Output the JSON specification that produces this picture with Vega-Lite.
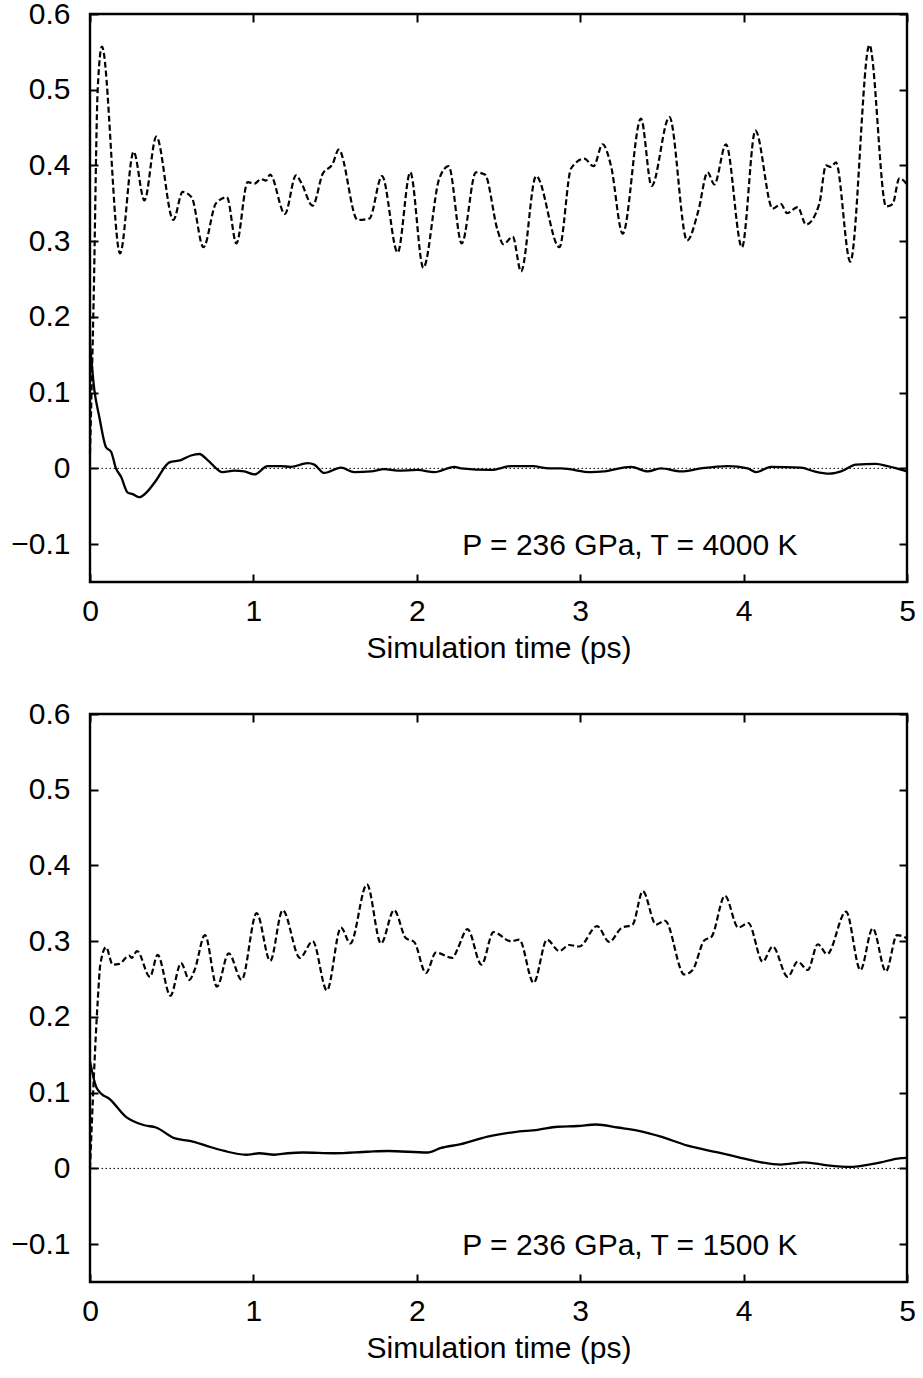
{
  "$schema": "https://vega.github.io/schema/vega-lite/v6.json",
  "background": "white",
  "padding": {"left": 9, "top": -3, "right": 5, "bottom": 0},
  "spacing": 32,
  "config": {
    "view": {"stroke": "black", "strokeWidth": 2.4},
    "font": "Liberation Sans",
    "axis": {
      "labelFont": "Liberation Sans", "labelFontSize": 30, "labelColor": "black",
      "titleFont": "Liberation Sans", "titleFontSize": 30, "titleFontWeight": "normal", "titleColor": "black",
      "domain": false, "grid": false, "tickColor": "black", "tickWidth": 2,
      "labelFlush": false, "labelOverlap": false
    }
  },
  "datasets": {
    "hot_solid": [
      {"t":0,"v":0.165},{"t":0.027,"v":0.103},{"t":0.057,"v":0.068},{"t":0.098,"v":0.028},{"t":0.129,"v":0.022},
      {"t":0.159,"v":0.0},{"t":0.19,"v":-0.011},{"t":0.231,"v":-0.032},{"t":0.261,"v":-0.034},{"t":0.302,"v":-0.038},
      {"t":0.349,"v":-0.031},{"t":0.404,"v":-0.016},{"t":0.486,"v":0.008},{"t":0.557,"v":0.011},{"t":0.618,"v":0.017},
      {"t":0.669,"v":0.019},{"t":0.72,"v":0.011},{"t":0.812,"v":-0.005},{"t":0.883,"v":-0.003},{"t":0.944,"v":-0.004},
      {"t":1.006,"v":-0.008},{"t":1.087,"v":0.003},{"t":1.169,"v":0.003},{"t":1.23,"v":0.002},{"t":1.332,"v":0.007},
      {"t":1.373,"v":0.005},{"t":1.434,"v":-0.006},{"t":1.536,"v":0.001},{"t":1.618,"v":-0.005},{"t":1.72,"v":-0.004},
      {"t":1.801,"v":-0.001},{"t":1.883,"v":-0.003},{"t":2.005,"v":-0.002},{"t":2.107,"v":-0.005},{"t":2.23,"v":0.002},
      {"t":2.27,"v":0.0},{"t":2.454,"v":-0.002},{"t":2.577,"v":0.003},{"t":2.709,"v":0.003},{"t":2.811,"v":0.0},
      {"t":2.883,"v":0.0},{"t":3.066,"v":-0.005},{"t":3.147,"v":-0.004},{"t":3.311,"v":0.002},{"t":3.413,"v":-0.004},
      {"t":3.494,"v":0.0},{"t":3.617,"v":-0.004},{"t":3.739,"v":0.0},{"t":3.903,"v":0.003},{"t":4.025,"v":0.0},
      {"t":4.076,"v":-0.005},{"t":4.168,"v":0.002},{"t":4.351,"v":0.001},{"t":4.433,"v":-0.004},{"t":4.525,"v":-0.007},
      {"t":4.596,"v":-0.004},{"t":4.688,"v":0.005},{"t":4.81,"v":0.006},{"t":4.881,"v":0.003},{"t":5.0,"v":-0.004}
    ],
    "hot_dashed": [
      {"t":0,"v":0.02},{"t":0.022,"v":0.22},{"t":0.047,"v":0.5},{"t":0.073,"v":0.557},{"t":0.184,"v":0.284},
      {"t":0.267,"v":0.418},{"t":0.333,"v":0.354},{"t":0.406,"v":0.438},{"t":0.51,"v":0.328},{"t":0.567,"v":0.365},
      {"t":0.622,"v":0.358},{"t":0.694,"v":0.292},{"t":0.771,"v":0.35},{"t":0.838,"v":0.358},{"t":0.896,"v":0.297},
      {"t":0.965,"v":0.378},{"t":1.006,"v":0.376},{"t":1.047,"v":0.382},{"t":1.077,"v":0.38},{"t":1.102,"v":0.388},
      {"t":1.193,"v":0.336},{"t":1.261,"v":0.387},{"t":1.291,"v":0.378},{"t":1.363,"v":0.347},{"t":1.424,"v":0.389},
      {"t":1.485,"v":0.402},{"t":1.522,"v":0.421},{"t":1.638,"v":0.328},{"t":1.71,"v":0.33},{"t":1.787,"v":0.386},
      {"t":1.883,"v":0.285},{"t":1.96,"v":0.391},{"t":2.04,"v":0.265},{"t":2.138,"v":0.383},{"t":2.195,"v":0.399},
      {"t":2.275,"v":0.297},{"t":2.362,"v":0.391},{"t":2.417,"v":0.388},{"t":2.495,"v":0.314},{"t":2.53,"v":0.296},
      {"t":2.587,"v":0.306},{"t":2.638,"v":0.26},{"t":2.73,"v":0.386},{"t":2.873,"v":0.292},{"t":2.944,"v":0.396},
      {"t":3.025,"v":0.409},{"t":3.082,"v":0.399},{"t":3.137,"v":0.428},{"t":3.188,"v":0.4},{"t":3.26,"v":0.31},
      {"t":3.372,"v":0.462},{"t":3.437,"v":0.373},{"t":3.546,"v":0.464},{"t":3.654,"v":0.301},{"t":3.723,"v":0.34},
      {"t":3.78,"v":0.391},{"t":3.821,"v":0.375},{"t":3.892,"v":0.428},{"t":3.99,"v":0.292},{"t":4.072,"v":0.446},
      {"t":4.178,"v":0.343},{"t":4.229,"v":0.349},{"t":4.266,"v":0.337},{"t":4.331,"v":0.345},{"t":4.382,"v":0.322},
      {"t":4.463,"v":0.349},{"t":4.504,"v":0.4},{"t":4.535,"v":0.398},{"t":4.565,"v":0.404},{"t":4.653,"v":0.273},
      {"t":4.77,"v":0.559},{"t":4.872,"v":0.346},{"t":4.912,"v":0.349},{"t":4.953,"v":0.383},{"t":5.0,"v":0.375}
    ],
    "cold_solid": [
      {"t":0,"v":0.141},{"t":0.037,"v":0.108},{"t":0.067,"v":0.099},{"t":0.118,"v":0.092},{"t":0.22,"v":0.068},
      {"t":0.333,"v":0.057},{"t":0.404,"v":0.054},{"t":0.516,"v":0.04},{"t":0.618,"v":0.036},{"t":0.71,"v":0.03},
      {"t":0.822,"v":0.023},{"t":0.955,"v":0.018},{"t":1.036,"v":0.02},{"t":1.128,"v":0.018},{"t":1.21,"v":0.02},
      {"t":1.302,"v":0.021},{"t":1.495,"v":0.02},{"t":1.699,"v":0.022},{"t":1.822,"v":0.023},{"t":2.066,"v":0.021},
      {"t":2.148,"v":0.027},{"t":2.27,"v":0.032},{"t":2.433,"v":0.042},{"t":2.597,"v":0.048},{"t":2.74,"v":0.051},
      {"t":2.862,"v":0.055},{"t":2.985,"v":0.056},{"t":3.097,"v":0.058},{"t":3.229,"v":0.054},{"t":3.372,"v":0.049},
      {"t":3.494,"v":0.042},{"t":3.658,"v":0.03},{"t":3.842,"v":0.021},{"t":3.964,"v":0.015},{"t":4.086,"v":0.009},
      {"t":4.229,"v":0.005},{"t":4.372,"v":0.008},{"t":4.514,"v":0.004},{"t":4.657,"v":0.002},{"t":4.738,"v":0.004},
      {"t":4.84,"v":0.008},{"t":4.942,"v":0.013},{"t":5.0,"v":0.014}
    ],
    "cold_dashed": [
      {"t":0,"v":0.0},{"t":0.047,"v":0.22},{"t":0.063,"v":0.269},{"t":0.098,"v":0.292},{"t":0.139,"v":0.269},
      {"t":0.179,"v":0.27},{"t":0.24,"v":0.281},{"t":0.255,"v":0.278},{"t":0.288,"v":0.287},{"t":0.367,"v":0.253},
      {"t":0.414,"v":0.282},{"t":0.492,"v":0.228},{"t":0.557,"v":0.271},{"t":0.608,"v":0.249},{"t":0.64,"v":0.262},
      {"t":0.704,"v":0.308},{"t":0.777,"v":0.24},{"t":0.849,"v":0.284},{"t":0.928,"v":0.249},{"t":1.02,"v":0.337},
      {"t":1.103,"v":0.274},{"t":1.179,"v":0.341},{"t":1.285,"v":0.278},{"t":1.363,"v":0.3},{"t":1.45,"v":0.235},
      {"t":1.536,"v":0.318},{"t":1.593,"v":0.297},{"t":1.695,"v":0.375},{"t":1.781,"v":0.297},{"t":1.861,"v":0.341},
      {"t":1.933,"v":0.304},{"t":1.984,"v":0.299},{"t":2.056,"v":0.258},{"t":2.117,"v":0.285},{"t":2.219,"v":0.278},
      {"t":2.25,"v":0.29},{"t":2.31,"v":0.316},{"t":2.396,"v":0.269},{"t":2.469,"v":0.312},{"t":2.576,"v":0.3},
      {"t":2.627,"v":0.302},{"t":2.715,"v":0.245},{"t":2.797,"v":0.302},{"t":2.872,"v":0.287},{"t":2.933,"v":0.295},
      {"t":2.995,"v":0.293},{"t":3.103,"v":0.32},{"t":3.178,"v":0.299},{"t":3.25,"v":0.317},{"t":3.321,"v":0.322},
      {"t":3.383,"v":0.366},{"t":3.464,"v":0.322},{"t":3.519,"v":0.327},{"t":3.637,"v":0.256},{"t":3.688,"v":0.262},
      {"t":3.759,"v":0.301},{"t":3.804,"v":0.306},{"t":3.886,"v":0.36},{"t":3.967,"v":0.318},{"t":4.029,"v":0.324},
      {"t":4.117,"v":0.273},{"t":4.178,"v":0.293},{"t":4.27,"v":0.253},{"t":4.331,"v":0.273},{"t":4.393,"v":0.262},
      {"t":4.454,"v":0.296},{"t":4.511,"v":0.283},{"t":4.627,"v":0.339},{"t":4.715,"v":0.262},{"t":4.79,"v":0.317},
      {"t":4.871,"v":0.26},{"t":4.939,"v":0.308},{"t":5.0,"v":0.304}
    ]
  },
  "vconcat": [
    {
      "width": 817, "height": 568,
      "layer": [
        {"data": {"values": [{"v": 0}]},
         "mark": {"type": "rule", "strokeDash": [1.5, 2.5], "strokeWidth": 1, "color": "black"},
         "encoding": {"y": {"field": "v", "type": "quantitative", "scale": {"domain": [-0.15, 0.6], "nice": false, "zero": false},
           "axis": {"orient": "left", "values": [-0.1, 0, 0.1, 0.2, 0.3, 0.4, 0.5, 0.6], "format": "~g", "ticks": false, "labelPadding": 20, "title": null}}}},
        {"data": {"name": "hot_solid"},
         "mark": {"type": "line", "interpolate": "monotone", "color": "black", "strokeWidth": 2.3},
         "encoding": {
           "x": {"field": "t", "type": "quantitative", "scale": {"domain": [0, 5], "nice": false, "zero": false},
             "axis": {"orient": "bottom", "values": [0, 1, 2, 3, 4, 5], "format": "d", "ticks": false, "labelPadding": 14, "title": "Simulation time (ps)", "titlePadding": 7}},
           "y": {"field": "v", "type": "quantitative", "axis": null}}},
        {"data": {"name": "hot_dashed"},
         "mark": {"type": "line", "interpolate": "monotone", "color": "black", "strokeWidth": 2.2, "strokeDash": [6, 3]},
         "encoding": {
           "x": {"field": "t", "type": "quantitative", "axis": {"orient": "top", "values": [0, 1, 2, 3, 4, 5], "labels": false, "tickSize": -8, "title": null}},
           "y": {"field": "v", "type": "quantitative", "axis": {"orient": "right", "values": [-0.1, 0, 0.1, 0.2, 0.3, 0.4, 0.5, 0.6], "labels": false, "tickSize": -8, "title": null}}}},
        {"data": {"values": [{"t": 4.33, "v": -0.115, "label": "P = 236 GPa, T = 4000 K"}]},
         "mark": {"type": "text", "align": "right", "baseline": "alphabetic", "fontSize": 30, "font": "Liberation Sans", "color": "black"},
         "encoding": {
           "x": {"field": "t", "type": "quantitative", "axis": {"orient": "bottom", "values": [0, 1, 2, 3, 4, 5], "labels": false, "tickSize": -8, "title": null}},
           "y": {"field": "v", "type": "quantitative", "axis": {"orient": "left", "values": [-0.1, 0, 0.1, 0.2, 0.3, 0.4, 0.5, 0.6], "labels": false, "tickSize": -8, "title": null}},
           "text": {"field": "label"}}}
      ],
      "resolve": {"axis": {"x": "independent", "y": "independent"}}
    },
    {
      "width": 817, "height": 568,
      "layer": [
        {"data": {"values": [{"v": 0}]},
         "mark": {"type": "rule", "strokeDash": [1.5, 2.5], "strokeWidth": 1, "color": "black"},
         "encoding": {"y": {"field": "v", "type": "quantitative", "scale": {"domain": [-0.15, 0.6], "nice": false, "zero": false},
           "axis": {"orient": "left", "values": [-0.1, 0, 0.1, 0.2, 0.3, 0.4, 0.5, 0.6], "format": "~g", "ticks": false, "labelPadding": 20, "title": null}}}},
        {"data": {"name": "cold_solid"},
         "mark": {"type": "line", "interpolate": "monotone", "color": "black", "strokeWidth": 2.3},
         "encoding": {
           "x": {"field": "t", "type": "quantitative", "scale": {"domain": [0, 5], "nice": false, "zero": false},
             "axis": {"orient": "bottom", "values": [0, 1, 2, 3, 4, 5], "format": "d", "ticks": false, "labelPadding": 14, "title": "Simulation time (ps)", "titlePadding": 7}},
           "y": {"field": "v", "type": "quantitative", "axis": null}}},
        {"data": {"name": "cold_dashed"},
         "mark": {"type": "line", "interpolate": "monotone", "color": "black", "strokeWidth": 2.2, "strokeDash": [6, 3]},
         "encoding": {
           "x": {"field": "t", "type": "quantitative", "axis": {"orient": "top", "values": [0, 1, 2, 3, 4, 5], "labels": false, "tickSize": -8, "title": null}},
           "y": {"field": "v", "type": "quantitative", "axis": {"orient": "right", "values": [-0.1, 0, 0.1, 0.2, 0.3, 0.4, 0.5, 0.6], "labels": false, "tickSize": -8, "title": null}}}},
        {"data": {"values": [{"t": 4.33, "v": -0.115, "label": "P = 236 GPa, T = 1500 K"}]},
         "mark": {"type": "text", "align": "right", "baseline": "alphabetic", "fontSize": 30, "font": "Liberation Sans", "color": "black"},
         "encoding": {
           "x": {"field": "t", "type": "quantitative", "axis": {"orient": "bottom", "values": [0, 1, 2, 3, 4, 5], "labels": false, "tickSize": -8, "title": null}},
           "y": {"field": "v", "type": "quantitative", "axis": {"orient": "left", "values": [-0.1, 0, 0.1, 0.2, 0.3, 0.4, 0.5, 0.6], "labels": false, "tickSize": -8, "title": null}},
           "text": {"field": "label"}}}
      ],
      "resolve": {"axis": {"x": "independent", "y": "independent"}}
    }
  ]
}
